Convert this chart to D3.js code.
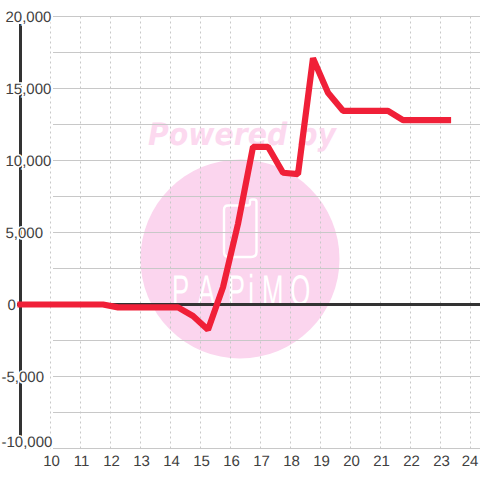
<!DOCTYPE html>
<html>
<head>
<meta charset="utf-8">
<script src="https://cdn.jsdelivr.net/npm/d3@7"></script>
<style>
html, body { margin: 0; padding: 0; background: #fff; }
svg { display: block; }
text { font-family: "Liberation Sans", sans-serif; text-rendering: geometricPrecision; }
</style>
</head>
<body>
<svg id="chart" width="480" height="480"></svg>
<script>
var yTicks = [20000, 15000, 10000, 5000, 0, -5000, -10000];
var yMinor = [17500, 12500, 7500, 2500, -2500, -7500];
var xTicks = [10, 11, 12, 13, 14, 15, 16, 17, 18, 19, 20, 21, 22, 23, 24];
var hours = [9, 11.75, 12.25, 14.25, 14.75, 15.25, 15.75, 16.25, 16.75, 17.25, 17.75, 18.25, 18.75, 19.25, 19.75, 21.25, 21.75, 23.25];
var balance = [0, 0, -200, -200, -800, -1750, 1200, 5600, 10950, 10950, 9150, 9050, 17100, 14700, 13450, 13450, 12800, 12800];

var svg = d3.select("#chart");

var x = d3.scaleLinear().domain([10, 24]).range([50.5, 470.5]);
var y = d3.scaleLinear().domain([20000, -10000]).range([16.5, 448.5]);

var ink = "#404040", gridColor = "#c8c8c8", pink = "#fbd5ee";

// watermark sits under the grid
var mark = svg.append("g");
mark.append("circle").attr("cx", 240).attr("cy", 259).attr("r", 99.5).attr("fill", pink);
mark.append("text").attr("x", 148).attr("y", 145)
	.style("font-family", "'DejaVu Sans'")
	.attr("font-size", 31).attr("font-weight", "bold").attr("font-style", "italic")
	.attr("textLength", 188).attr("lengthAdjust", "spacingAndGlyphs")
	.attr("fill", "#fcd9ef").text("Powered by");
mark.append("path")
	.attr("d", "M228 205.5H248Q250 205.5 250 203V201Q250 199.5 252 199.5H254Q256.5 199.5 256.5 202V252Q256.5 257 251 257H229Q224 257 224 252V210Q224 205.5 228 205.5Z")
	.attr("fill", "none").attr("stroke", "#fff").attr("stroke-width", 2.4);
mark.append("text").attr("transform", "translate(172,305) scale(0.6,1)")
	.attr("x", "0 43 93 127 150 197").attr("y", 0)
	.attr("font-size", 43).attr("fill", "#fff").text("PAPiMO");

svg.append("g").selectAll("line").data(xTicks).enter().append("line")
	.attr("x1", function(d) { return x(d); }).attr("x2", function(d) { return x(d); })
	.attr("y1", y(20000)).attr("y2", y(-10000))
	.attr("stroke", gridColor).attr("stroke-dasharray", "2,3");

svg.append("g").selectAll("line").data(yTicks.concat(yMinor)).enter().append("line")
	.attr("x1", 53).attr("x2", 480)
	.attr("y1", function(d) { return y(d); }).attr("y2", function(d) { return y(d); })
	.attr("stroke", gridColor);

// y axis line, labels cut it with a white halo
svg.append("line").attr("x1", 20.5).attr("x2", 20.5).attr("y1", 24).attr("y2", 438)
	.attr("stroke", "#333").attr("stroke-width", 3);
svg.append("line").attr("x1", 17).attr("x2", 480).attr("y1", y(0)).attr("y2", y(0))
	.attr("stroke", "#333").attr("stroke-width", 3);

var line = d3.line()
	.x(function(d, i) { return x(hours[i]); })
	.y(function(d) { return y(d); });

svg.append("path").datum(balance).attr("d", line)
	.attr("fill", "none").attr("stroke", "#f02038").attr("stroke-width", 6.2)
	.attr("stroke-linecap", "square").attr("stroke-linejoin", "bevel");

// labels hang from the left edge, the last one is pulled up into the plot
svg.append("g").selectAll("text").data(yTicks).enter().append("text")
	.attr("x", function(d) { return d < 0 ? 1.5 : d === 0 ? 7.5 : 5.5; })
	.attr("y", function(d) { return (d === -10000 ? y(d) - 7 : y(d)) + 5.5; })
	.attr("font-size", 15).attr("fill", ink)
	.attr("stroke", "#fff").attr("stroke-width", 3).attr("paint-order", "stroke")
	.text(function(d) { return d3.format(",")(d).replace("\u2212", "-"); });

svg.append("g").selectAll("text").data(xTicks).enter().append("text")
	.attr("x", function(d) { return d === 24 ? x(d) - 0.5 : x(d) + 1; }).attr("y", 466)
	.attr("text-anchor", "middle").attr("font-size", 15).attr("fill", ink)
	.text(function(d) { return d; });
</script>
</body>
</html>
